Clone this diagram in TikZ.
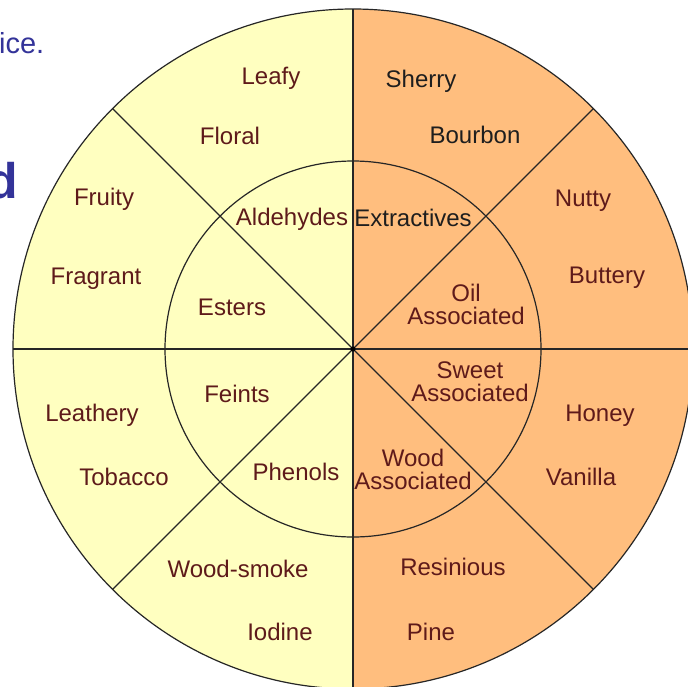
\documentclass[tikz,border=0pt]{standalone}
\usepackage{fontspec}
\setmainfont{Liberation Sans}
\definecolor{yel}{HTML}{FFFFC0}
\definecolor{org}{HTML}{FFBE7E}
\definecolor{txtred}{HTML}{5E1A1A}
\definecolor{txtblk}{HTML}{1E1E1E}
\definecolor{slideblue}{HTML}{333399}
\tikzset{
  lbl/.style={inner sep=0pt, text height=17.2pt, text depth=0pt, align=center,
    font=\fontsize{24}{23.5}\selectfont, text=txtred},
  lblk/.style={lbl, text=txtblk},
  wheel/.style={draw=black!85, line width=1.2pt},
  slide/.style={inner sep=0pt, text=slideblue, anchor=base east}
}
\begin{document}
\begin{tikzpicture}[x=1pt,y=-1pt]
\useasboundingbox (0,0) rectangle (688,686);
\begin{scope}
\clip (0,0) rectangle (688,686);
\fill[white] (0,0) rectangle (688,686);
% halves
\fill[yel] (353,9) arc[start angle=270, end angle=90, radius=340] -- cycle;
\fill[org] (353,9) arc[start angle=270, end angle=450, radius=340] -- cycle;
% circles and spokes
\coordinate (c) at (353,349);
\draw[wheel] (c) circle[radius=340];
\draw[wheel] (c) circle[radius=188];
\draw[wheel] (13,349) -- (693,349);
\draw[wheel] (353,9) -- (353,689);
\draw[wheel] (112.6,108.6) -- (593.4,589.4);
\draw[wheel] (593.4,108.6) -- (112.6,589.4);
\fill (c) circle[radius=2.5];
% slide fragments
\node[slide, font=\fontsize{29}{30}\selectfont] (ice) at (44.5,53) {ice.};
\node[slide, font=\fontsize{50}{52}\selectfont\bfseries] (dd) at (18.5,198) {d};
\end{scope}
% outer ring labels
\node[lbl]  (leafy)    at (271,76)  {Leafy};
\node[lbl]  (floral)   at (230,136) {Floral};
\node[lblk] (sherry)   at (421,79)  {Sherry};
\node[lblk] (bourbon)  at (475,135) {Bourbon};
\node[lbl]  (fruity)   at (104,197) {Fruity};
\node[lbl]  (fragrant) at (96,276)  {Fragrant};
\node[lbl]  (nutty)    at (583,198) {Nutty};
\node[lbl]  (buttery)  at (607,275) {Buttery};
\node[lbl]  (leathery) at (92,413)  {Leathery};
\node[lbl]  (tobacco)  at (124,477) {Tobacco};
\node[lbl]  (honey)    at (600,413) {Honey};
\node[lbl]  (vanilla)  at (581,477) {Vanilla};
\node[lbl]  (woodsmoke) at (238,569) {Wood-smoke};
\node[lbl]  (iodine)   at (280,632) {Iodine};
\node[lbl]  (resinious) at (453,567) {Resinious};
\node[lbl]  (pine)     at (431,632) {Pine};
% inner ring labels
\node[lbl]  (aldehydes)   at (292,217) {Aldehydes};
\node[lblk] (extractives) at (413,218) {Extractives};
\node[lbl]  (esters)      at (232,307) {Esters};
\node[lbl]  (oil)         at (466,316) {Oil\\Associated};
\node[lbl]  (feints)      at (237,394) {Feints};
\node[lbl]  (sweet)       at (470,393) {Sweet\\Associated};
\node[lbl]  (phenols)     at (296,472) {Phenols};
\node[lbl]  (wood)        at (413,481) {Wood\\Associated};
\end{tikzpicture}
\end{document}
